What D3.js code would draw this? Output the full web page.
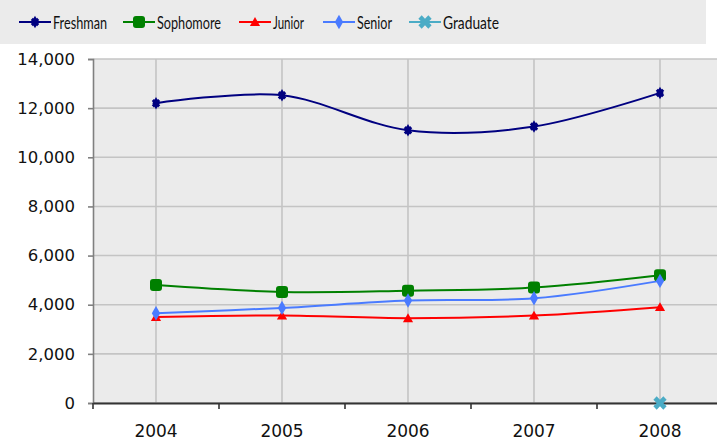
<!DOCTYPE html>
<html><head><meta charset="utf-8">
<script src="https://cdn.jsdelivr.net/npm/d3@7"></script>
<style>
html,body{margin:0;padding:0;background:#fff;}
svg{display:block;}
</style></head>
<body>
<svg id="chart" width="717" height="444"></svg>
<script>
const years = ["2004","2005","2006","2007","2008"];
const freshman  = [12200, 12520, 11100, 11250, 12620];
const sophomore = [4800, 4520, 4570, 4700, 5200];
const junior    = [3500, 3560, 3450, 3560, 3900];
const senior    = [3650, 3870, 4170, 4260, 4970];
const graduate  = [null, null, null, null, 0];
const yTicks = [0, 2000, 4000, 6000, 8000, 10000, 12000, 14000];
const seriesNames = ["Freshman","Sophomore","Junior","Senior","Graduate"];

const series = [
  {name: seriesNames[0], values: freshman,  color: "#000080", marker: "fresh"},
  {name: seriesNames[1], values: sophomore, color: "#008000", marker: "square"},
  {name: seriesNames[2], values: junior,    color: "#FF0000", marker: "tri"},
  {name: seriesNames[3], values: senior,    color: "#4A7BFF", marker: "diamond"},
  {name: seriesNames[4], values: graduate,  color: "#4BACC6", marker: "x"}
];

const svg = d3.select("#chart");
const plotLeft = 93, plotTop = 59, plotBottom = 403, bandW = 126;
const x = d3.scaleBand().domain(years).range([plotLeft, plotLeft + bandW * years.length]);
const y = d3.scaleLinear().domain([0, 14000]).range([plotBottom, plotTop]);
const cx = d => x(d) + x.bandwidth() / 2;

// legend band
svg.append("rect").attr("x", 0).attr("y", 0).attr("width", 706).attr("height", 44).attr("fill", "#EBEBEB");

// plot area
svg.append("rect").attr("x", plotLeft).attr("y", plotTop).attr("width", 717 - plotLeft).attr("height", plotBottom - plotTop).attr("fill", "#EBEBEB");

const grid = svg.append("g");
yTicks.forEach(t => {
  grid.append("line").attr("x1", plotLeft).attr("x2", 717).attr("y1", y(t)).attr("y2", y(t))
    .attr("stroke", "#C4C4C4").attr("stroke-width", 1.6);
});
years.forEach(yr => {
  grid.append("line").attr("x1", cx(yr)).attr("x2", cx(yr)).attr("y1", plotTop).attr("y2", plotBottom)
    .attr("stroke", "#C4C4C4").attr("stroke-width", 1.6);
});

// y axis
const yAxis = d3.axisLeft(y).tickValues(yTicks).tickSize(5).tickPadding(13)
  .tickFormat(d3.format(","));
const ya = svg.append("g").attr("transform", `translate(${plotLeft},0)`).call(yAxis);
ya.select(".domain").attr("stroke", "#808080").attr("stroke-width", 1.6);
ya.selectAll(".tick line").attr("stroke", "#808080").attr("stroke-width", 1.6);
ya.selectAll("text").attr("font-family", "DejaVu Sans").attr("font-size", "16.5px").attr("fill", "#111");

// x axis
const xAxis = d3.axisBottom(x).tickSize(0).tickPadding(22);
const xa = svg.append("g").attr("transform", `translate(0,${plotBottom})`).call(xAxis);
xa.select(".domain").attr("stroke", "#333").attr("stroke-width", 2);
xa.selectAll("text").attr("font-family", "DejaVu Sans").attr("font-size", "17px").attr("fill", "#111");
// band-boundary ticks
d3.range(years.length + 1).forEach(i => {
  xa.append("line").attr("x1", plotLeft + i * x.bandwidth()).attr("x2", plotLeft + i * x.bandwidth())
    .attr("y1", 0).attr("y2", 6).attr("stroke", "#333").attr("stroke-width", 1.6);
});

function drawMarker(g, type, color, px, py) {
  if (type === "fresh") {
    g.append("path").attr("d", d3.symbol().type(d3.symbolDiamond).size(45)())
      .attr("transform", `translate(${px},${py})`).attr("fill", color);
    g.append("path").attr("d", d3.symbol().type(d3.symbolCross).size(45)())
      .attr("transform", `translate(${px},${py}) rotate(45)`).attr("fill", color);
  } else if (type === "square") {
    g.append("rect").attr("x", px - 6).attr("y", py - 6).attr("width", 12).attr("height", 12)
      .attr("rx", 3).attr("fill", color);
  } else if (type === "tri") {
    g.append("path").attr("d", d3.symbol().type(d3.symbolTriangle).size(45)())
      .attr("transform", `translate(${px},${py + 1})`).attr("fill", color);
  } else if (type === "diamond") {
    g.append("path").attr("d", d3.symbol().type(d3.symbolDiamond).size(60)())
      .attr("transform", `translate(${px},${py})`).attr("fill", color);
  } else if (type === "x") {
    g.append("path").attr("d", d3.symbol().type(d3.symbolCross).size(110)())
      .attr("transform", `translate(${px},${py}) rotate(45)`).attr("fill", color);
  }
}

const line = d3.line()
  .defined(d => d.v !== null)
  .x(d => cx(d.yr)).y(d => y(d.v))
  .curve(d3.curveCardinal.tension(0));

const plot = svg.append("g");
series.forEach(s => {
  const pts = years.map((yr, i) => ({yr, v: s.values[i]}));
  plot.append("path").datum(pts).attr("d", line).attr("fill", "none")
    .attr("stroke", s.color).attr("stroke-width", 2);
});
series.forEach(s => {
  const g = plot.append("g");
  years.forEach((yr, i) => {
    if (s.values[i] !== null) drawMarker(g, s.marker, s.color, cx(yr), y(s.values[i]));
  });
});

// legend
const legendX = [19, 123, 239, 323, 409];
const legendTextW = [54, 64, 31, 35, 56];
const legend = svg.append("g");
series.forEach((s, i) => {
  const lx = legendX[i], ly = 22;
  legend.append("line").attr("x1", lx).attr("x2", lx + 32).attr("y1", ly).attr("y2", ly)
    .attr("stroke", s.color).attr("stroke-width", 2);
  drawMarker(legend, s.marker, s.color, lx + 16, ly);
  legend.append("text").attr("x", lx + 34).attr("y", 28.5).text(s.name)
    .attr("font-family", "Liberation Sans Narrow, Lato").attr("font-size", "17px").attr("fill", "#111")
    .attr("textLength", legendTextW[i]).attr("lengthAdjust", "spacingAndGlyphs");
});
</script>
</body></html>
